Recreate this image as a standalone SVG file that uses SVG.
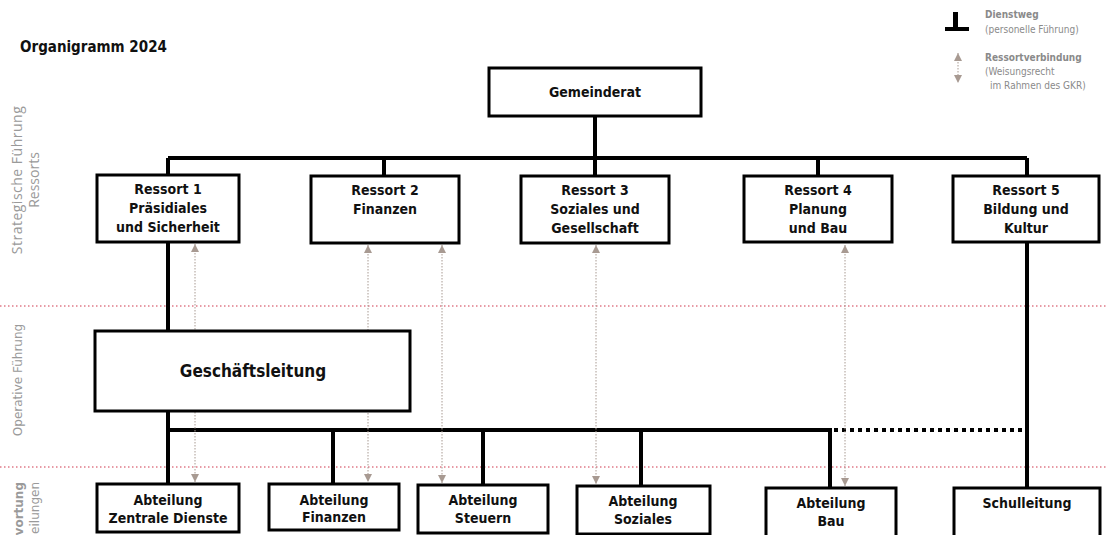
<svg xmlns="http://www.w3.org/2000/svg" width="1107" height="535" viewBox="0 0 1107 535">
<style>
.box{fill:#fff;stroke:#000;stroke-width:3}
.bus{stroke:#000;stroke-width:4;fill:none}
.dbus{stroke:#000;stroke-width:4;fill:none;stroke-dasharray:4 4}
.rv{stroke:#a89a92;stroke-width:1;stroke-dasharray:1.5 1.5;fill:none;marker-start:url(#ah);marker-end:url(#ah)}
.sep{stroke:#e07a88;stroke-width:1.5;stroke-dasharray:1.5 2.5}
.t{font-family:"DejaVu Sans Condensed","DejaVu Sans",sans-serif;font-stretch:condensed;font-weight:bold;font-size:14px;text-anchor:middle;fill:#111}
.side{font-family:"Open Sans","DejaVu Sans",sans-serif;font-size:14px;fill:#9a9a9a;text-anchor:middle}
.side2{font-family:"DejaVu Sans",sans-serif;font-size:12px;fill:#9a9a9a}
.lg{font-family:"DejaVu Sans Condensed","DejaVu Sans",sans-serif;font-stretch:condensed;font-size:10px;fill:#8a8a8a}
</style>
<defs>
<marker id="ah" viewBox="0 0 10 10" refX="10" refY="5" markerUnits="userSpaceOnUse" markerWidth="9" markerHeight="8" orient="auto-start-reverse">
<path d="M0,0 L10,5 L0,10 z" fill="#a89a92"/>
</marker>
</defs>
<rect width="1107" height="535" fill="#fff"/>
<text x="20" y="52" style="font-family:'DejaVu Sans Condensed','DejaVu Sans',sans-serif;font-stretch:condensed;font-weight:bold;font-size:15px;fill:#111">Organigramm 2024</text>
<g id="legend">
<rect x="953" y="12" width="5" height="16" fill="#000"/>
<rect x="945" y="27" width="24" height="4" fill="#000"/>
<text class="lg" x="985" y="18" font-weight="bold">Dienstweg</text>
<text class="lg" x="985" y="33">(personelle Führung)</text>
<line x1="958" y1="53" x2="958" y2="83" class="rv"/>
<text class="lg" x="985" y="61" font-weight="bold">Ressortverbindung</text>
<text class="lg" x="985" y="75">(Weisungsrecht</text>
<text class="lg" x="990" y="89">im Rahmen des GKR)</text>
</g>
<g id="separators">
<line class="sep" x1="0" y1="306" x2="1107" y2="306"/>
<line class="sep" x1="0" y1="467" x2="1107" y2="467"/>
</g>
<g id="side-labels">
<text class="side" transform="translate(22,180) rotate(-90)" letter-spacing="0.5">Strategische Führung</text>
<text class="side" transform="translate(39,180) rotate(-90)">Ressorts</text>
<text class="side2" transform="translate(22,380) rotate(-90)" text-anchor="middle">Operative Führung</text>
<text class="side2" transform="translate(23,482) rotate(-90)" text-anchor="end" font-weight="bold" font-size="11">vortung</text>
<text class="side2" transform="translate(39,482) rotate(-90)" text-anchor="end" font-size="11">eilungen</text>
</g>
<g id="connectors">
<path class="bus" d="M595,116 V158 M168,158 H1027 M168,158 V175 M384,158 V175 M595,158 V175 M818,158 V175 M1027,158 V175"/>
<path class="bus" d="M168,242 V331 M168,411 V484 M168,430 H830 V487 M333,430 V483 M483,430 V484 M641,430 V485 M1027,242 V487"/>
<path class="dbus" d="M834,430 H1027"/>
<line class="rv" x1="195" y1="244" x2="195" y2="482"/>
<line class="rv" x1="368" y1="245" x2="368" y2="482"/>
<line class="rv" x1="442" y1="245" x2="442" y2="483"/>
<line class="rv" x1="596" y1="245" x2="596" y2="484"/>
<line class="rv" x1="845" y1="245" x2="845" y2="486"/>
</g>
<g id="gemeinderat"><rect class="box" x="489" y="68" width="212" height="48"/><text class="t" x="595" y="97">Gemeinderat</text></g>
<g id="ressort1"><rect class="box" x="97" y="175" width="142" height="67"/><text class="t" x="168" y="194">Ressort 1</text><text class="t" x="168" y="213">Präsidiales</text><text class="t" x="168" y="232">und Sicherheit</text></g>
<g id="ressort2"><rect class="box" x="311" y="176" width="148" height="67"/><text class="t" x="385" y="195">Ressort 2</text><text class="t" x="385" y="214">Finanzen</text></g>
<g id="ressort3"><rect class="box" x="521" y="176" width="148" height="67"/><text class="t" x="595" y="195">Ressort 3</text><text class="t" x="595" y="214">Soziales und</text><text class="t" x="595" y="233">Gesellschaft</text></g>
<g id="ressort4"><rect class="box" x="744" y="176" width="148" height="66"/><text class="t" x="818" y="195">Ressort 4</text><text class="t" x="818" y="214">Planung</text><text class="t" x="818" y="233">und Bau</text></g>
<g id="ressort5"><rect class="box" x="953" y="176" width="146" height="66"/><text class="t" x="1026" y="195">Ressort 5</text><text class="t" x="1026" y="214">Bildung und</text><text class="t" x="1026" y="233">Kultur</text></g>
<g id="geschaeftsleitung"><rect class="box" x="95" y="331" width="315" height="80"/><text class="t" x="253" y="377" style="font-size:17px">Geschäftsleitung</text></g>
<g id="abt-zentrale-dienste"><rect class="box" x="97" y="484" width="142" height="48"/><text class="t" x="168" y="505">Abteilung</text><text class="t" x="168" y="523">Zentrale Dienste</text></g>
<g id="abt-finanzen"><rect class="box" x="269" y="484" width="130" height="46"/><text class="t" x="334" y="505">Abteilung</text><text class="t" x="334" y="522">Finanzen</text></g>
<g id="abt-steuern"><rect class="box" x="418" y="485" width="130" height="48"/><text class="t" x="483" y="505">Abteilung</text><text class="t" x="483" y="523">Steuern</text></g>
<g id="abt-soziales"><rect class="box" x="577" y="486" width="133" height="48"/><text class="t" x="643" y="506">Abteilung</text><text class="t" x="643" y="524">Soziales</text></g>
<g id="abt-bau"><rect class="box" x="766" y="488" width="130" height="50"/><text class="t" x="831" y="508">Abteilung</text><text class="t" x="831" y="526">Bau</text></g>
<g id="schulleitung"><rect class="box" x="954" y="488" width="146" height="50"/><text class="t" x="1027" y="508">Schulleitung</text></g>
</svg>
